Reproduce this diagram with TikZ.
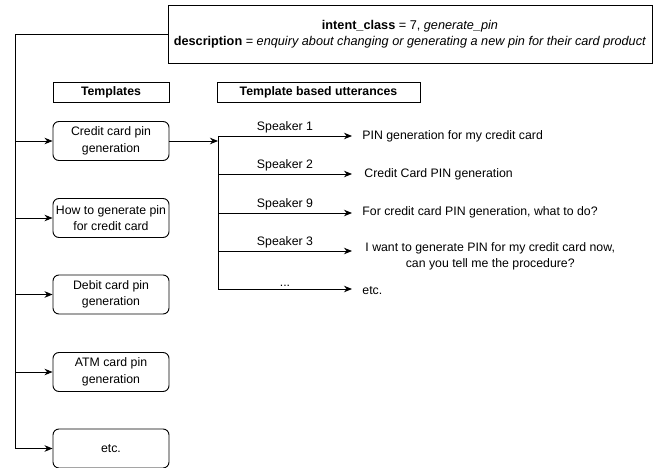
\documentclass[tikz,border=0pt]{standalone}
\usepackage{fontspec}
\setmainfont{Liberation Sans}
\usetikzlibrary{arrows.meta}
\begin{document}
\begin{tikzpicture}[x=1pt,y=-1pt,
  line width=0.9pt,
  font=\fontsize{12.3}{16.5}\selectfont,
  tbox/.style={draw, rounded corners=6pt, minimum width=116pt, minimum height=39pt,
    align=center, inner sep=1pt},
  hdr/.style={draw, minimum height=20pt, inner sep=1pt,
    font=\bfseries\fontsize{12.3}{16.5}\selectfont},
  utt/.style={anchor=west, inner xsep=0pt, align=center},
  spk/.style={above, inner sep=2pt},
  arr/.style={-{Stealth[length=8pt,width=6.5pt,inset=2.5pt]}}]
\useasboundingbox (0,0) rectangle (656,468);

% top box
\node[draw, minimum width=484pt, minimum height=58pt, align=center, inner sep=1pt,
  font=\fontsize{12.7}{16.5}\selectfont] (top) at (410,34)
  {\textbf{intent\_class} = 7, \textit{generate\_pin}\\
   \textbf{description} = \textit{enquiry about changing or generating a new pin for their card product}};

% headers
\node[hdr, minimum width=116pt] (h1) at (111,92) {Templates};
\node[hdr, minimum width=203pt] (h2) at (318.5,92) {Template based utterances};

% template boxes
\node[tbox] (b1) at (111,141) {Credit card pin\\generation};
\node[tbox] (b2) at (111,218) {How to generate pin\\for credit card};
\node[tbox] (b3) at (111,294.5) {Debit card pin\\generation};
\node[tbox] (b4) at (111,372) {ATM card pin\\generation};
\node[tbox] (b5) at (111,448.5) {etc.};

% spine on the left
\coordinate (sp) at (15,0);
\draw (top.west) -| (sp |- b5.west);
\foreach \b in {b1,b2,b3,b4,b5}
  \draw[arr] (sp |- \b.west) -- (\b.west);

% utterances
\coordinate (vs) at (218,0);
\coordinate (e1) at (352,136);
\coordinate (e2) at (352,174);
\coordinate (e3) at (352,213);
\coordinate (e4) at (352,251);
\coordinate (e5) at (352,289);

\node[utt] (u1) at (362,136) {PIN generation for my credit card};
\node[utt] (u2) at (364,174) {Credit Card PIN generation};
\node[utt] (u3) at (362,212) {For credit card PIN generation, what to do?};
\node[utt] (u4) at (365,256.5) {I want to generate PIN for my credit card now,\\can you tell me the procedure?};
\node[utt] (u5) at (362,291) {etc.};

\draw[arr] (b1.east) -- (vs |- b1.east);
\draw (vs |- e1) -- (vs |- e5);
\draw[arr] (vs |- e1) -- node[spk] (l1) {Speaker 1} (e1);
\draw[arr] (vs |- e2) -- node[spk] (l2) {Speaker 2} (e2);
\draw[arr] (vs |- e3) -- node[spk] (l3) {Speaker 9} (e3);
\draw[arr] (vs |- e4) -- node[spk] (l4) {Speaker 3} (e4);
\draw[arr] (vs |- e5) -- node[spk] (l5) {...} (e5);
\end{tikzpicture}
\end{document}
